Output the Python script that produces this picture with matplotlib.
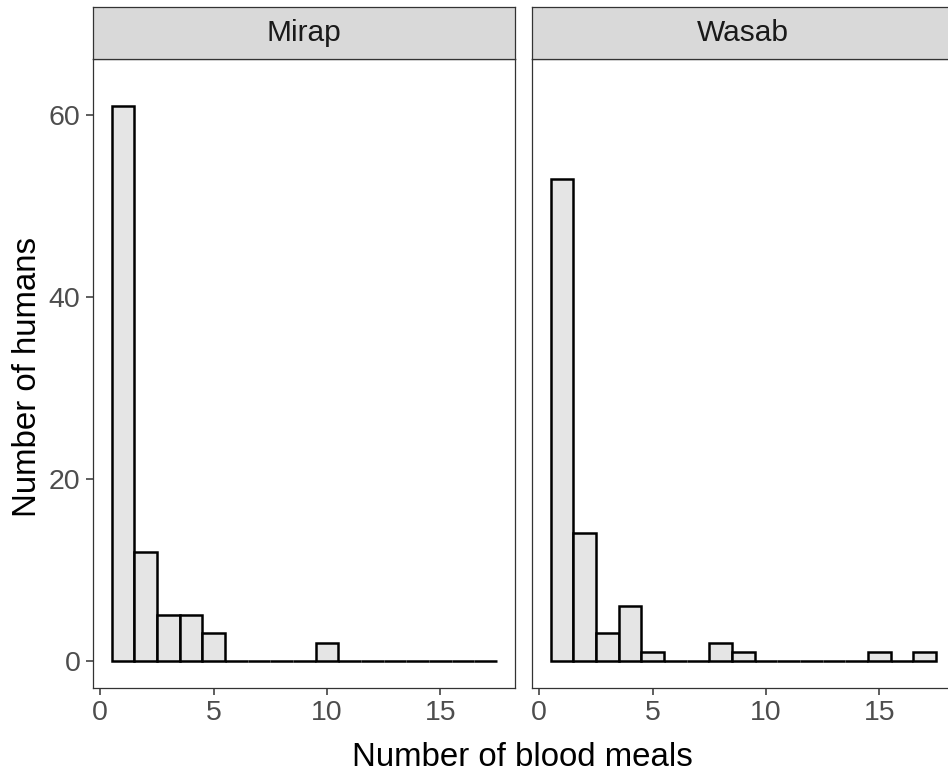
import numpy as np
import matplotlib.pyplot as plt

plt.rcParams['font.family'] = ['Liberation Sans', 'DejaVu Sans']

# number of blood meals (bin centres) and counts per site
meals = list(range(1, 18))
mirap = [61, 12, 5, 5, 3, 0, 0, 0, 0, 2, 0, 0, 0, 0, 0, 0, 0]
wasab = [53, 14, 3, 6, 1, 0, 0, 2, 1, 0, 0, 0, 0, 0, 1, 0, 1]
sites = ['Mirap', 'Wasab']

fig = plt.figure(figsize=(9.48, 7.78), dpi=100)

W, H = 948, 778
pw = 422
lefts = [93, 532]
top, bot = 59, 688
strip_h = 52
border = '#333333'

for i, (site, counts) in enumerate(zip(sites, [mirap, wasab])):
    x0 = lefts[i]
    ax = fig.add_axes([x0 / W, 1 - bot / H, pw / W, (bot - top) / H])
    ax.bar(meals, counts, width=1, color='#E5E5E5', edgecolor='black', linewidth=1.8)
    ax.set_xlim(-0.32, 18.3)
    ax.set_ylim(-3, 66.2)
    ax.set_xticks([0, 5, 10, 15])
    ax.set_yticks([0, 20, 40, 60])
    for s in ax.spines.values():
        s.set_color(border)
        s.set_linewidth(0.9)
    ax.tick_params(colors=border, labelcolor='#4D4D4D', labelsize=20.5, length=5, width=1.1, pad=4)
    if i > 0:
        ax.tick_params(axis='y', left=False, labelleft=False)

    sx = fig.add_axes([x0 / W, 1 - top / H, pw / W, strip_h / H])
    sx.set_facecolor('#D9D9D9')
    sx.set_xticks([])
    sx.set_yticks([])
    for s in sx.spines.values():
        s.set_color(border)
        s.set_linewidth(0.9)
    sx.text(0.5, 0.5, site, ha='center', va='center', fontsize=21.5, color='#1A1A1A',
            transform=sx.transAxes)

fig.text(522 / W, 1 - 757 / H, 'Number of blood meals', ha='center', va='center', fontsize=23.8)
fig.text(28 / W, 1 - 377 / H, 'Number of humans', ha='center', va='center', fontsize=23.8, rotation=90)

fig.savefig('out.png', dpi=100)
